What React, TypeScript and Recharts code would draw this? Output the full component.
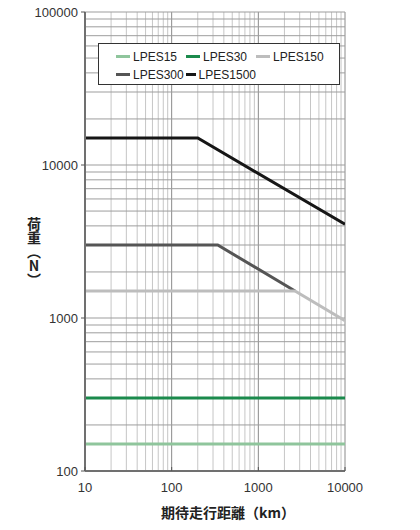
import React from "react";
import { LineChart, Line, XAxis, YAxis, CartesianGrid } from "recharts";

const xTicks = [10, 100, 1000, 10000];
const yTicks = [100, 1000, 10000, 100000];
const xMajorGrid = [10, 100, 1000, 10000];
const xMinorGrid = [
  20, 30, 40, 50, 60, 70, 80, 90,
  200, 300, 400, 500, 600, 700, 800, 900,
  2000, 3000, 4000, 5000, 6000, 7000, 8000, 9000,
];
const yGrid = [
  200, 300, 400, 500, 600, 700, 800, 900, 1000,
  2000, 3000, 4000, 5000, 6000, 7000, 8000, 9000, 10000,
  20000, 30000, 40000, 50000, 60000, 70000, 80000, 90000, 100000,
];

const LPES15 = [
  { km: 10, load: 150 },
  { km: 10000, load: 150 },
];
const LPES30 = [
  { km: 10, load: 300 },
  { km: 10000, load: 300 },
];
const LPES150 = [
  { km: 10, load: 1500 },
  { km: 2650, load: 1500 },
  { km: 10000, load: 960 },
];
const LPES300 = [
  { km: 10, load: 3000 },
  { km: 340, load: 3000 },
  { km: 2650, load: 1500 },
];
const LPES1500 = [
  { km: 10, load: 15000 },
  { km: 200, load: 15000 },
  { km: 10000, load: 4100 },
];

const legendOrder = [
  { name: "LPES15", color: "#8fc59c" },
  { name: "LPES30", color: "#1b8a4c" },
  { name: "LPES150", color: "#bdbdbd" },
  { name: "LPES300", color: "#555555" },
  { name: "LPES1500", color: "#161616" },
];

const drawOrder = [
  { name: "LPES15", color: "#8fc59c", data: LPES15 },
  { name: "LPES30", color: "#1b8a4c", data: LPES30 },
  { name: "LPES300", color: "#555555", data: LPES300 },
  { name: "LPES150", color: "#bdbdbd", data: LPES150 },
  { name: "LPES1500", color: "#161616", data: LPES1500 },
];

const FONT = "'Liberation Sans', Arial, sans-serif";
const CJK = "'Noto Sans CJK JP', 'Noto Sans CJK SC', sans-serif";

const XTick = (props: any) => {
  const { x, y, payload } = props;
  return (
    <g>
      <line x1={x} x2={x} y1={y - 12} y2={y - 16} stroke="#555" strokeWidth={1} />
      <text x={x} y={y} dy="0.71em" textAnchor="middle" fontSize={13} fill="#333" fontFamily={FONT}>
        {payload.value}
      </text>
    </g>
  );
};

export default function App() {
  return (
    <div style={{ position: "relative", width: 412, height: 530, marginTop: -8 }}>
      <LineChart
        width={412}
        height={530}
        margin={{ top: 12, right: 75, left: 0, bottom: 19 }}
      >
        <CartesianGrid
          horizontal={false}
          vertical={true}
          verticalValues={xMinorGrid}
          stroke="#c6c6c6"
          strokeWidth={1}
          syncWithTicks={false}
        />
        <CartesianGrid
          horizontal={false}
          vertical={true}
          verticalValues={xMajorGrid}
          stroke="#8a8a8a"
          strokeWidth={1}
          syncWithTicks={false}
        />
        <CartesianGrid
          horizontal={true}
          vertical={false}
          horizontalValues={yGrid}
          stroke="#9d9d9d"
          strokeWidth={1}
          syncWithTicks={false}
        />
        <XAxis
          dataKey="km"
          type="number"
          scale="log"
          domain={[10, 10000]}
          ticks={xTicks}
          allowDataOverflow
          height={40}
          tickSize={0}
          tickMargin={12}
          tickLine={false}
          axisLine={{ stroke: "#707070", strokeWidth: 2 }}
          tick={<XTick />}
          interval={0}
        />
        <YAxis
          dataKey="load"
          type="number"
          scale="log"
          domain={[100, 100000]}
          ticks={yTicks}
          allowDataOverflow
          width={77}
          tickSize={4}
          tickMargin={3}
          interval={0}
          tickLine={{ stroke: "#555" }}
          axisLine={{ stroke: "#707070", strokeWidth: 2 }}
          tick={{ fontSize: 13, fill: "#333", fontFamily: FONT }}
        />
        {drawOrder.map((s) => (
          <Line
            key={s.name}
            data={s.data}
            dataKey="load"
            name={s.name}
            type="linear"
            stroke={s.color}
            strokeWidth={3}
            dot={false}
            activeDot={false}
            isAnimationActive={false}
          />
        ))}
      </LineChart>

      <div
        style={{
          position: "absolute",
          left: 90,
          top: 43,
          width: 242,
          height: 42,
          boxSizing: "border-box",
          border: "1px solid #333",
          background: "#fff",
          display: "flex",
          flexWrap: "wrap",
          paddingLeft: 17,
          paddingTop: 4,
          fontFamily: FONT,
          fontSize: 12,
          color: "#222",
        }}
      >
        {legendOrder.map((s) => (
          <div
            key={s.name}
            style={{ width: 70, height: 17, display: "flex", alignItems: "center" }}
          >
            <span
              style={{
                display: "inline-block",
                width: 14,
                height: 3,
                background: s.color,
                marginRight: 3,
              }}
            />
            <span>{s.name}</span>
          </div>
        ))}
      </div>

      <div
        style={{
          position: "absolute",
          left: 19,
          top: 217,
          writingMode: "vertical-rl",
          textOrientation: "upright",
          fontFamily: CJK,
          fontWeight: 700,
          fontSize: 14,
          lineHeight: "14px",
          color: "#222",
        }}
      >
        荷重（N）
      </div>

      <div
        style={{
          position: "absolute",
          left: 120,
          width: 200,
          top: 504,
          textAlign: "center",
          fontFamily: CJK,
          fontWeight: 700,
          fontSize: 14,
          lineHeight: "16px",
          color: "#222",
        }}
      >
        期待走行距離（km）
      </div>
    </div>
  );
}
